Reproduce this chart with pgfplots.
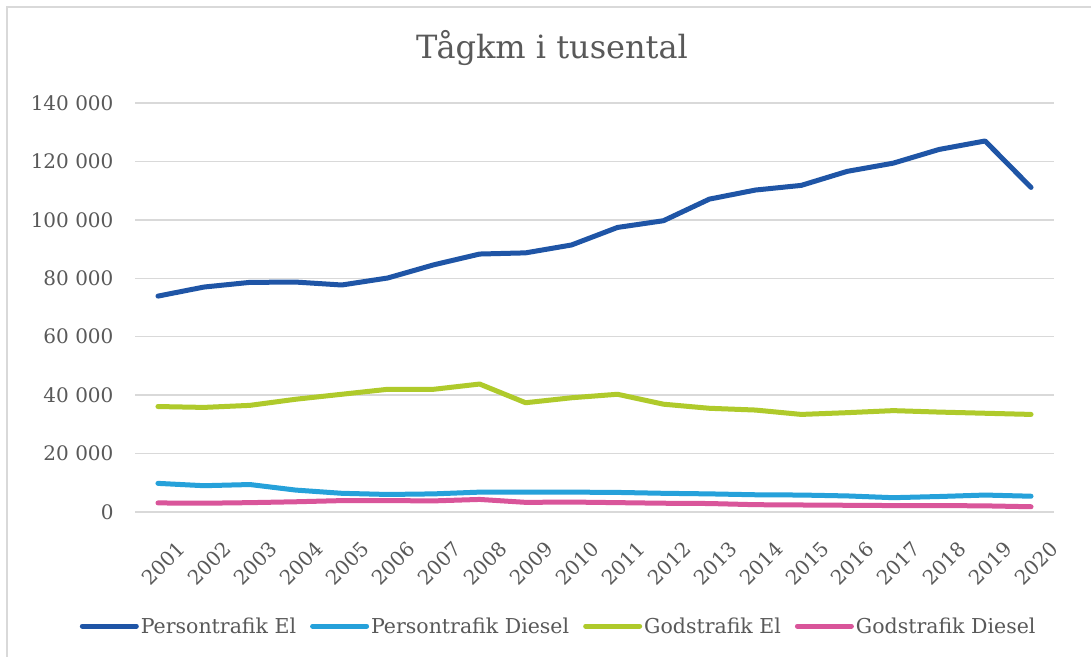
\documentclass[border=0pt]{standalone}
\usepackage{pgfplots}
\pgfplotsset{compat=1.18}
\usepackage{fontspec}
\setmainfont{DejaVu Serif}
\definecolor{pel}{HTML}{1F55A6}
\definecolor{pdi}{HTML}{26A1DA}
\definecolor{gel}{HTML}{AFCA2B}
\definecolor{gdi}{HTML}{D9559A}
\definecolor{txt}{HTML}{595959}
\definecolor{grd}{HTML}{D9D9D9}
\begin{document}
\begin{tikzpicture}
\useasboundingbox (0,0) rectangle (1091bp,657bp);
\fill[white] (0,0) rectangle (1091bp,657bp);
\draw[grd, line width=1.5bp] (7bp,0bp) -- (7bp,650bp) -- (1091bp,650bp);
\node[text=txt, font=\fontsize{32bp}{37bp}\selectfont] at (552bp,609bp) {Tågkm i tusental};
\begin{axis}[
  at={(135bp,145bp)}, anchor=south west,
  scale only axis, width=919bp, height=409bp,
  xmin=2000.5, xmax=2020.5, ymin=0, ymax=140000,
  scaled y ticks=false,
  axis line style={draw=none},
  major tick length=0pt,
  ymajorgrids, grid style={grd, line width=1.5bp},
  ytick={0,20000,40000,60000,80000,100000,120000,140000},
  yticklabels={0,20 000,40 000,60 000,80 000,100 000,120 000,140 000},
  xtick={2001,...,2020},
  xticklabels={2001,2002,2003,2004,2005,2006,2007,2008,2009,2010,2011,2012,2013,2014,2015,2016,2017,2018,2019,2020},
  yticklabel style={text=txt, font=\fontsize{20bp}{24bp}\selectfont, anchor=east, xshift=-18bp},
  xticklabel style={text=txt, font=\fontsize{20bp}{24bp}\selectfont, rotate=45, anchor=east, xshift=-3bp, yshift=-40bp},
  every axis plot/.append style={line width=5bp, line join=round, line cap=round},
  legend columns=4,
  legend style={at={(0.461,-0.279)}, anchor=center, draw=none, fill=none,
    font=\fontsize{20.5bp}{24bp}\selectfont, text=txt,
    nodes={inner sep=2bp},
    /tikz/every even column/.append style={column sep=12bp}},
  legend image code/.code={\draw[#1, line width=5bp, line cap=round] (0bp,0bp) -- (54bp,0bp);},
]
\addplot[pel] coordinates {(2001,73900)(2002,77000)(2003,78600)(2004,78700)(2005,77700)(2006,80100)(2007,84600)(2008,88300)(2009,88700)(2010,91400)(2011,97400)(2012,99700)(2013,107100)(2014,110200)(2015,111800)(2016,116600)(2017,119400)(2018,124100)(2019,127000)(2020,111100)};
\addlegendentry{Persontrafik El}
\addplot[pdi] coordinates {(2001,9800)(2002,9000)(2003,9400)(2004,7500)(2005,6400)(2006,6000)(2007,6200)(2008,6800)(2009,6800)(2010,6800)(2011,6700)(2012,6400)(2013,6200)(2014,5900)(2015,5800)(2016,5500)(2017,4900)(2018,5300)(2019,5800)(2020,5400)};
\addlegendentry{Persontrafik Diesel}
\addplot[gel] coordinates {(2001,36100)(2002,35800)(2003,36500)(2004,38600)(2005,40300)(2006,42000)(2007,42000)(2008,43800)(2009,37400)(2010,39100)(2011,40300)(2012,36900)(2013,35500)(2014,34900)(2015,33400)(2016,34000)(2017,34700)(2018,34200)(2019,33800)(2020,33400)};
\addlegendentry{Godstrafik El}
\addplot[gdi] coordinates {(2001,3100)(2002,3000)(2003,3200)(2004,3500)(2005,3900)(2006,3900)(2007,3800)(2008,4300)(2009,3300)(2010,3400)(2011,3200)(2012,3000)(2013,2900)(2014,2500)(2015,2400)(2016,2300)(2017,2200)(2018,2200)(2019,2100)(2020,1800)};
\addlegendentry{Godstrafik Diesel}
\end{axis}
\end{tikzpicture}
\end{document}
